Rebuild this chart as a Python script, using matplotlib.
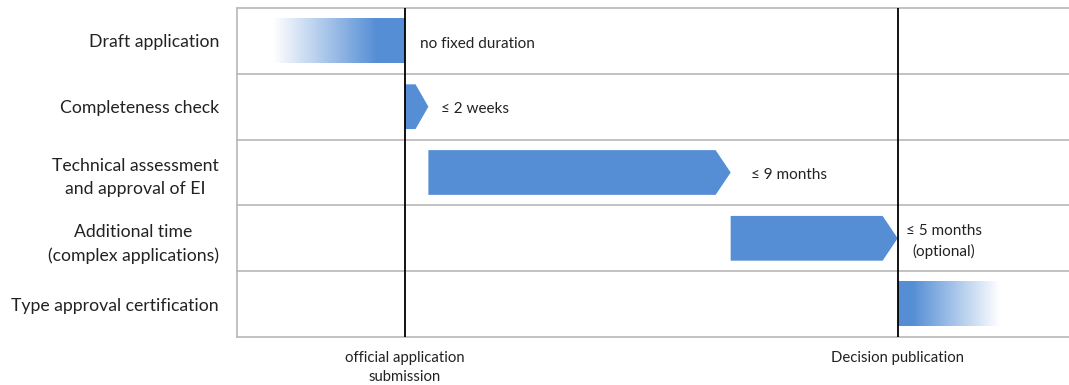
import matplotlib.pyplot as plt
import numpy as np
from matplotlib.colors import LinearSegmentedColormap
from matplotlib.patches import Polygon

# timeline in months, 0 = official application submission
steps = [
    "Draft application",
    "Completeness check",
    "Technical assessment\nand approval of EI",
    "Additional time\n(complex applications)",
    "Type approval certification",
]
starts = [-3.95, 0.0, 0.7, 9.75, 14.75]
ends = [0.0, 0.7, 9.75, 14.75, 17.8]
notes = ["no fixed duration", "≤ 2 weeks", "≤ 9 months", "≤ 5 months\n(optional)", ""]
milestones = [0.0, 14.75]
milestone_labels = ["official application\nsubmission", "Decision publication"]

BLUE = "#558ed5"
GRID = "#b8b8b8"
TIP = 0.45
BAR_H = 0.68

plt.rcParams["font.family"] = ["Lato", "DejaVu Sans"]

fig = plt.figure(figsize=(10.69, 3.85), dpi=100)
ax = fig.add_axes([237 / 1069, 48 / 385, 832 / 1069, 329 / 385])

fade = LinearSegmentedColormap.from_list("fade", ["#ffffff", BLUE])

for i, (s, e) in enumerate(zip(starts, ends)):
    y0, y1 = i - BAR_H / 2, i + BAR_H / 2
    if i == 0:
        # fade in from white, solid at the end
        grad = np.clip(np.linspace(0, 1, 256) / 0.79, 0, 1)[None, :]
        ax.imshow(grad, cmap=fade, extent=(s, e, y1, y0), aspect="auto",
                  interpolation="bilinear", zorder=2)
    elif i == len(starts) - 1:
        grad = np.clip((1 - np.linspace(0, 1, 256)) / 0.86, 0, 1)[None, :]
        ax.imshow(grad, cmap=fade, extent=(s, e, y1, y0), aspect="auto",
                  interpolation="bilinear", zorder=2)
    else:
        tip = min(TIP, (e - s) * 0.55)
        pts = [(s, y0), (e - tip, y0), (e, i), (e - tip, y1), (s, y1)]
        ax.add_patch(Polygon(pts, closed=True, facecolor=BLUE, edgecolor="none", zorder=2))

offsets = [15, 13, 20, 8, 0]
for i, (e, note, off) in enumerate(zip(ends, notes, offsets)):
    if note:
        ax.annotate(note, xy=(e, i), xytext=(off * 0.72, -2), textcoords="offset points",
                    ha="left", va="center", fontsize=11, color="#222222",
                    multialignment="center", linespacing=1.5)

ax.set_xlim(-5.03, 19.88)
ax.set_ylim(len(steps) - 0.5, -0.5)

# row separators
for yb in np.arange(-0.5, len(steps), 1.0):
    ax.axhline(yb, color=GRID, lw=1.2, zorder=1, clip_on=False)
ax.plot([-5.03, -5.03], [-0.5, len(steps) - 0.5], color=GRID, lw=1.2, clip_on=False)

for m in milestones:
    ax.axvline(m, color="black", lw=1.3, zorder=3)

for sp in ax.spines.values():
    sp.set_visible(False)

ax.set_yticks(range(len(steps)))
ax.set_yticklabels(steps, fontsize=12.7, color="#222222", linespacing=1.55)
for lbl in ax.get_yticklabels():
    lbl.set_multialignment("center")
ax.set_xticks(milestones)
ax.set_xticklabels(milestone_labels, fontsize=10.7, color="#222222", linespacing=1.45)
ax.tick_params(axis="y", length=0, pad=13)
ax.tick_params(axis="x", length=0, pad=10)

fig.savefig("out.png", dpi=100)
